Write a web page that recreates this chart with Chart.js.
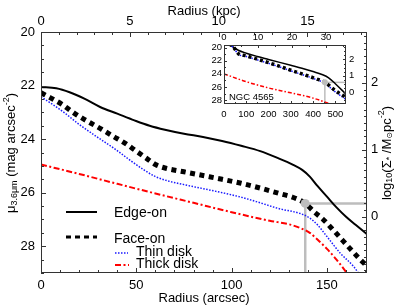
<!DOCTYPE html>
<html><head><meta charset="utf-8">
<script src="https://cdn.jsdelivr.net/npm/chart.js@4.4.1/dist/chart.umd.min.js"></script>
<style>
html,body{margin:0;padding:0;background:#fff;}
#wrap{position:relative;width:407px;height:306px;overflow:hidden;}
#main{position:absolute;left:0;top:0;}
#inset{position:absolute;left:200px;top:30px;}
</style></head><body>
<div id="wrap"><canvas id="main" width="407" height="306"></canvas><canvas id="inset" width="164" height="92"></canvas></div>
<script>
// ---------- main panel data (radius in arcsec, mu in mag arcsec^-2) ----------
const edgeR  = [0,8,15,23,31,40,49,57,65,75,85,95,105,115,124,132,137,141,145,150,155,160,165,171];
const edgeMu = [22.05,22.1,22.25,22.5,22.8,23.05,23.3,23.5,23.65,23.8,23.92,24.07,24.25,24.45,24.7,24.95,25.15,25.4,25.75,26.15,26.55,26.9,27.2,27.55];
const faceR  = [0,5,11,16,20,26,32,38,44,50,55,60,65,75,85,95,105,115,125,132,138.6,143,148,154,162,167.5,171];
const faceMu = [22.27,22.46,22.7,22.96,23.15,23.4,23.64,23.9,24.15,24.45,24.7,24.95,25.08,25.22,25.36,25.5,25.65,25.83,26.03,26.17,26.4,26.7,27.0,27.45,28.08,28.5,28.74];
const thinR  = [0,6,12,20,29,38,46,54,60,66,75,85,95,105,115,125,136,141,145,150,157,164,167];
const thinMu = [22.42,22.7,23.0,23.45,23.9,24.33,24.75,25.15,25.4,25.55,25.7,25.85,26.0,26.17,26.38,26.6,26.78,26.95,27.2,27.64,28.26,28.76,29.05];
const thickR  = [0,20,40,60,80,100,120,130,136,141,145,150,155,161];
const thickMu = [24.95,25.3,25.67,26.03,26.38,26.73,27.05,27.18,27.32,27.5,27.75,28.1,28.5,29.05];
const markerR = [138.6], markerMu = [26.4];
// tick labels
const arcsecTicks = [0,50,100,150];
const kpcTicks = [0,5,10,15];
const muTicks = [20,22,24,26,28];
const logTicks = [0,1,2];
const legendLabels = ['Edge-on','Face-on','Thin disk','Thick disk'];

// ---------- inset data (NGC 4565) ----------
const inEdgeR  = [0,27,64,100,150,200,250,300,350,400,440,470,500,548];
const inEdgeMu = [19.0,19.6,20.4,20.85,21.35,21.8,22.25,22.7,23.15,23.65,24.1,24.6,25.5,27.1];
const inFaceR  = [0,42,64,100,139,200,250,300,350,409,453,498,548];
const inFaceMu = [19.0,19.9,20.9,21.25,21.65,22.3,22.85,23.45,24.0,24.7,25.3,26.5,27.6];
const inThinR  = [0,42,64,100,139,200,250,300,350,409,453,498,548];
const inThinMu = [19.1,20.0,21.0,21.35,21.75,22.4,22.95,23.55,24.1,24.8,25.45,26.7,27.9];
const inThickR  = [0,100,200,300,400,500,550];
const inThickMu = [24.0,25.2,26.15,26.9,27.7,28.9,29.6];
const inMarkerR = [453], inMarkerMu = [25.3];
const inArcsecTicks = [0,100,200,300,400,500];
const inKpcTicks = [0,10,20,30];
const inMuTicks = [20,22,24,26,28];
const inLogTicks = [0,1,2];
const insetLabel = 'NGC 4565';

const FONT = '"Liberation Sans", Arial, Helvetica, "DejaVu Sans", sans-serif';
const FRAME = '#333';
const GREY = '#bdbdbd';
const pts = (r, m) => r.map((v, i) => ({x: v, y: m[i]}));

function fixTicks(arr){ return s => { s.ticks = arr.map(v => ({value: v})); }; }

function richText(ctx, parts, cx, cy, rot){
  ctx.save(); ctx.translate(cx, cy); ctx.rotate(rot);
  let w = 0;
  parts.forEach(p => { ctx.font = p.s + 'px ' + FONT; p.w = ctx.measureText(p.t).width; w += p.w; });
  let x = -w/2; ctx.textBaseline = 'middle'; ctx.textAlign = 'left'; ctx.fillStyle = '#000';
  parts.forEach(p => { ctx.font = p.s + 'px ' + FONT; ctx.fillText(p.t, x, p.dy || 0); x += p.w; });
  ctx.restore();
}

function tickPlugin(cfg, bg){
  return {
    id: 'inTicks',
    beforeDraw(chart){
      if(!bg) return;
      const a = chart.chartArea, ctx = chart.ctx;
      ctx.save(); ctx.fillStyle = '#fff'; ctx.fillRect(a.left, a.top, a.right-a.left, a.bottom-a.top); ctx.restore();
    },
    afterDraw(chart){
      const ctx = chart.ctx, a = chart.chartArea;
      ctx.save(); ctx.strokeStyle = FRAME; ctx.lineWidth = 1;
      for (const id in cfg){
        const c = cfg[id], s = chart.scales[id];
        const lo = Math.min(s.min, s.max), hi = Math.max(s.min, s.max);
        const vals = [];
        const n0 = Math.ceil(lo / c.minor - 1e-9), n1 = Math.floor(hi / c.minor + 1e-9);
        for (let n = n0; n <= n1; n++) vals.push(n * c.minor);
        vals.forEach(v => {
          const major = c.major.some(m => Math.abs(m - v) < 1e-6);
          const len = major ? c.lmaj : c.lmin;
          const p = Math.round(s.getPixelForValue(v)) + 0.5;
          ctx.beginPath();
          if (c.side === 'bottom'){ ctx.moveTo(p, a.bottom); ctx.lineTo(p, a.bottom - len); }
          else if (c.side === 'top'){ ctx.moveTo(p, a.top); ctx.lineTo(p, a.top + len); }
          else if (c.side === 'left'){ ctx.moveTo(a.left, p); ctx.lineTo(a.left + len, p); }
          else { ctx.moveTo(a.right, p); ctx.lineTo(a.right - len, p); }
          ctx.stroke();
        });
      }
      ctx.strokeRect(Math.round(a.left)+0.5, Math.round(a.top)+0.5, Math.round(a.right-a.left)-1, Math.round(a.bottom-a.top)-1);
      ctx.restore();
    }
  };
}

const lineDs = (data, color, width, dash, order) => ({
  data, borderColor: color, borderWidth: width, borderDash: dash, order,
  pointRadius: 0, fill: false, cubicInterpolationMode: 'monotone', borderCapStyle: 'butt'
});

// ---------- main chart ----------
const X_MAX = 171, MU_MIN = 20, MU_MAX = 29, MU0 = 26.9, KPC_MAX = 18.35;
const tickFont = {family: FONT, size: 13};
const mainTicks = {
  x: {side: 'bottom', minor: 10, major: arcsecTicks, lmaj: 5, lmin: 3},
  xTop: {side: 'top', minor: 1, major: kpcTicks, lmaj: 5, lmin: 3},
  y: {side: 'left', minor: 0.5, major: muTicks, lmaj: 5, lmin: 3},
  yRight: {side: 'right', minor: 0.1, major: logTicks, lmaj: 5, lmin: 3}
};
const mainExtras = {
  id: 'mainExtras',
  afterDraw(chart){
    const ctx = chart.ctx;
    // axis titles with sub/superscripts
    richText(ctx, [{t:'μ',s:13},{t:'3.6μm',s:9,dy:3},{t:' (mag arcsec',s:13},{t:'-2',s:9,dy:-5},{t:')',s:13}], 11.5, 153, -Math.PI/2);
    richText(ctx, [{t:'log',s:13},{t:'10',s:9,dy:3},{t:'(Σ',s:13},{t:'*',s:9,dy:3},{t:' /M',s:13},{t:'⊙',s:8,dy:3},{t:'pc',s:13},{t:'-2',s:9,dy:-5},{t:')',s:13}], 387, 153, -Math.PI/2);
    // legend
    ctx.save();
    ctx.lineCap = 'butt';
    ctx.strokeStyle = '#000'; ctx.lineWidth = 2; ctx.setLineDash([]);
    ctx.beginPath(); ctx.moveTo(66, 212); ctx.lineTo(97, 212); ctx.stroke();
    ctx.lineWidth = 3; ctx.setLineDash([5,4]);
    ctx.beginPath(); ctx.moveTo(66, 237); ctx.lineTo(97, 237); ctx.stroke();
    ctx.strokeStyle = '#1a1aff'; ctx.lineWidth = 1.5; ctx.setLineDash([1.5,1.5]);
    ctx.beginPath(); ctx.moveTo(115, 253); ctx.lineTo(128, 253); ctx.stroke();
    ctx.strokeStyle = '#ff0000'; ctx.lineWidth = 2; ctx.setLineDash([6,2.5,2,2.5]);
    ctx.beginPath(); ctx.moveTo(115, 265); ctx.lineTo(129, 265); ctx.stroke();
    ctx.setLineDash([]);
    ctx.fillStyle = '#000'; ctx.textBaseline = 'middle'; ctx.textAlign = 'left';
    ctx.font = '14px ' + FONT;
    ctx.fillText(legendLabels[0], 114, 213);
    ctx.fillText(legendLabels[1], 114, 239);
    ctx.fillText(legendLabels[2], 136, 252);
    ctx.fillText(legendLabels[3], 136, 264);
    ctx.restore();
  }
};

new Chart(document.getElementById('main'), {
  type: 'line',
  data: { datasets: [
    Object.assign(lineDs(pts(markerR, markerMu), GREY, 0, [], 0), {pointRadius: 4.5, pointBackgroundColor: GREY, pointBorderWidth: 0, showLine: false}),
    lineDs(pts(faceR, faceMu), '#000', 5, [5,4.5], 1),
    lineDs(pts(edgeR, edgeMu), '#000', 2, [], 2),
    lineDs(pts(thinR, thinMu), '#1a1aff', 1.5, [1.5,1.5], 3),
    lineDs(pts(thickR, thickMu), '#ff0000', 2, [6,2.5,2,2.5], 4),
    lineDs([{x: markerR[0], y: markerMu[0]}, {x: markerR[0], y: MU_MAX}], GREY, 2.5, [], 6),
    lineDs([{x: markerR[0], y: markerMu[0]}, {x: X_MAX, y: markerMu[0]}], GREY, 2.5, [], 6)
  ]},
  options: {
    responsive: false, animation: false, devicePixelRatio: 1,
    layout: {padding: 0},
    plugins: {legend: {display: false}, tooltip: {enabled: false}},
    scales: {
      x: { type: 'linear', position: 'bottom', min: 0, max: X_MAX,
        afterBuildTicks: fixTicks(arcsecTicks), afterFit: s => { s.height = 33; },
        grid: {display: false, drawTicks: false}, border: {display: false},
        ticks: {font: tickFont, color: '#000', padding: 5, autoSkip: false, maxRotation: 0},
        title: {display: true, text: 'Radius (arcsec)', font: tickFont, color: '#000', padding: {top: 0, bottom: 0}} },
      xTop: { type: 'linear', position: 'top', min: 0, max: KPC_MAX,
        afterBuildTicks: fixTicks(kpcTicks), afterFit: s => { s.height = 32; },
        grid: {display: false, drawTicks: false}, border: {display: false},
        ticks: {font: tickFont, color: '#000', padding: 3, autoSkip: false, maxRotation: 0},
        title: {display: true, text: 'Radius (kpc)', font: tickFont, color: '#000', padding: {top: 4, bottom: 0}} },
      y: { type: 'linear', position: 'left', min: MU_MIN, max: MU_MAX, reverse: true,
        afterBuildTicks: fixTicks(muTicks), afterFit: s => { s.width = 41; },
        grid: {display: false, drawTicks: false}, border: {display: false},
        ticks: {font: tickFont, color: '#000', padding: 6, autoSkip: false} },
      yRight: { type: 'linear', position: 'right', min: (MU0 - MU_MAX)/2.5, max: (MU0 - MU_MIN)/2.5,
        afterBuildTicks: fixTicks(logTicks), afterFit: s => { s.width = 40; },
        grid: {display: false, drawTicks: false}, border: {display: false},
        ticks: {font: tickFont, color: '#000', padding: 4, autoSkip: false} }
    }
  },
  plugins: [tickPlugin(mainTicks, true), mainExtras]
});

// ---------- inset chart ----------
const IN_X_MAX = 548, IN_MU_MIN = 19.6, IN_MU_MAX = 28.6, IN_MU0 = 26.8, IN_KPC_MAX = 35.9;
const inFont = {family: FONT, size: 9.5};
const insetTicks = {
  x: {side: 'bottom', minor: 50, major: inArcsecTicks, lmaj: 3, lmin: 2},
  xTop: {side: 'top', minor: 5, major: inKpcTicks, lmaj: 3, lmin: 2},
  y: {side: 'left', minor: 1, major: inMuTicks, lmaj: 3, lmin: 2},
  yRight: {side: 'right', minor: 0.25, major: inLogTicks, lmaj: 3, lmin: 2}
};
const insetExtras = {
  id: 'insetExtras',
  afterDraw(chart){
    const ctx = chart.ctx;
    ctx.save(); ctx.fillStyle = '#000'; ctx.font = '9.5px ' + FONT;
    ctx.textBaseline = 'middle'; ctx.textAlign = 'left';
    ctx.fillText(insetLabel, 29, 67);
    ctx.restore();
  }
};
new Chart(document.getElementById('inset'), {
  type: 'line',
  data: { datasets: [
    Object.assign(lineDs(pts(inMarkerR, inMarkerMu), GREY, 0, [], 0), {pointRadius: 3, pointBackgroundColor: GREY, pointBorderWidth: 0, showLine: false}),
    lineDs(pts(inFaceR, inFaceMu), '#000', 3.5, [3,3], 1),
    lineDs(pts(inThinR, inThinMu), '#1a1aff', 1.5, [1.5,1.5], 2),
    lineDs(pts(inEdgeR, inEdgeMu), '#000', 1.5, [], 3),
    lineDs(pts(inThickR, inThickMu), '#ff0000', 1.5, [4,2,1.5,2], 4),
    lineDs([{x: inMarkerR[0], y: inMarkerMu[0]}, {x: inMarkerR[0], y: IN_MU_MAX}], GREY, 1.5, [], 6),
    lineDs([{x: inMarkerR[0], y: inMarkerMu[0]}, {x: IN_X_MAX, y: inMarkerMu[0]}], GREY, 1.5, [], 6)
  ]},
  options: {
    responsive: false, animation: false, devicePixelRatio: 1,
    layout: {padding: 0},
    plugins: {legend: {display: false}, tooltip: {enabled: false}},
    scales: {
      x: { type: 'linear', position: 'bottom', min: 0, max: IN_X_MAX,
        afterBuildTicks: fixTicks(inArcsecTicks), afterFit: s => { s.height = 18; },
        grid: {display: false, drawTicks: false}, border: {display: false},
        ticks: {font: inFont, color: '#000', padding: 5, autoSkip: false, maxRotation: 0} },
      xTop: { type: 'linear', position: 'top', min: 0, max: IN_KPC_MAX,
        afterBuildTicks: fixTicks(inKpcTicks), afterFit: s => { s.height = 15; },
        grid: {display: false, drawTicks: false}, border: {display: false},
        ticks: {font: inFont, color: '#000', padding: 2, autoSkip: false, maxRotation: 0} },
      y: { type: 'linear', position: 'left', min: IN_MU_MIN, max: IN_MU_MAX, reverse: true,
        afterBuildTicks: fixTicks(inMuTicks), afterFit: s => { s.width = 24; },
        grid: {display: false, drawTicks: false}, border: {display: false},
        ticks: {font: inFont, color: '#000', padding: 2, autoSkip: false} },
      yRight: { type: 'linear', position: 'right', min: (IN_MU0 - IN_MU_MAX)/2.5, max: (IN_MU0 - IN_MU_MIN)/2.5,
        afterBuildTicks: fixTicks(inLogTicks), afterFit: s => { s.width = 18; },
        grid: {display: false, drawTicks: false}, border: {display: false},
        ticks: {font: inFont, color: '#000', padding: 3, autoSkip: false} }
    }
  },
  plugins: [tickPlugin(insetTicks, true), insetExtras]
});
</script>
</body></html>
